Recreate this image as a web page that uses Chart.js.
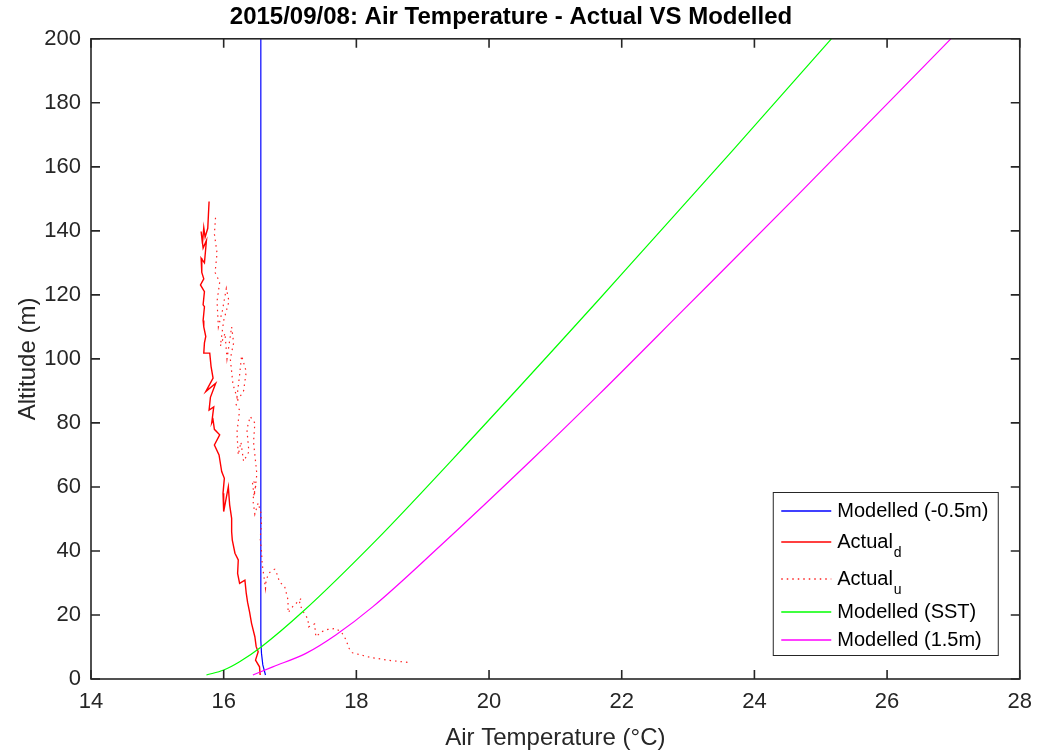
<!DOCTYPE html>
<html>
<head>
<meta charset="utf-8">
<script src="https://cdn.jsdelivr.net/npm/chart.js@4"></script>
<style>
  html, body { margin: 0; padding: 0; background: #fff; }
  canvas { display: block; }
</style>
</head>
<body>
<canvas id="tempChart" width="1042" height="753"></canvas>
<script>
// axis ranges / ticks
const xRange = [14, 28];
const yRange = [0, 200];

// Modelled (-0.5m)
const modelledNegTemp = [16.56, 16.56, 16.57, 16.59, 16.63];
const modelledNegAlt = [200, 12, 8, 4.4, 1.25];

// Actual_d (descent)
const actualDownTemp = [15.78, 15.77, 15.76, 15.72, 15.70, 15.68, 15.66, 15.69, 15.74, 15.71, 15.66, 15.67, 15.70, 15.65,
  15.71, 15.69, 15.71, 15.69, 15.70, 15.73, 15.71, 15.70, 15.79, 15.81, 15.84, 15.73, 15.88, 15.80, 15.78, 15.85, 15.82,
  15.84, 15.86, 15.94, 15.86, 15.93, 15.97, 16.01, 15.99, 16.00, 16.07, 16.09, 16.12, 16.12, 16.13, 16.17, 16.22, 16.21,
  16.24, 16.32, 16.34, 16.36, 16.39, 16.42, 16.47, 16.49, 16.52, 16.48, 16.54, 16.55];
const actualDownAlt = [149.2, 145, 140.8, 138, 141, 136, 139.8, 134.6, 137, 130, 131.5, 127, 125, 123.1,
  121, 116.9, 116.3, 112, 110, 107, 105, 101.8, 101.8, 97.6, 94, 89.8, 92.4, 88, 84, 85, 80,
  80.9, 78, 76.3, 73.1, 70, 64.8, 62.7, 58, 52.3, 60, 54.4, 50.2, 46, 43.4, 39.3, 37.2, 33,
  29.9, 30.9, 26.8, 24, 21, 17.4, 13.2, 10.1, 8.5, 5.9, 3.8, 1.25];

// Actual_u (ascent)
const actualUpTemp = [18.77, 18.5, 18.2, 17.94, 17.89, 17.84, 17.78, 17.69, 17.57, 17.48, 17.39, 17.37, 17.28, 17.27,
  17.2, 17.14, 17.17, 17.04, 16.97, 16.97, 16.92, 16.84, 16.81, 16.77, 16.72, 16.68, 16.64, 16.63, 16.60, 16.58,
  16.57, 16.55, 16.57, 16.56, 16.52, 16.47, 16.44, 16.49, 16.43, 16.46, 16.50, 16.48, 16.45, 16.47, 16.40, 16.35,
  16.38, 16.30, 16.26, 16.22, 16.20, 16.24, 16.18, 16.30, 16.34, 16.27, 16.24, 16.20, 16.14, 16.10, 16.15, 16.12,
  16.05, 16.02, 15.95, 16.0, 16.08, 16.04, 15.98, 15.92, 15.90, 15.94, 15.87, 15.90, 15.86, 15.88];
const actualUpAlt = [5.2, 5.8, 6.8, 8.2, 9.6, 12.4, 14.5, 15.8, 15.5, 14.8, 13.2, 17.2, 16.3, 18.75,
  21, 23.6, 25.2, 22.6, 20.7, 24.7, 28.8, 30.4, 32.5, 34.3, 33.8, 33.0, 30.9, 28.3, 33.0, 36,
  40, 44, 48, 52, 55, 51.5, 56, 61, 62, 57, 64, 68, 74, 80, 82, 78,
  71, 68, 74, 70, 77, 84, 86, 90, 96, 101, 95, 88, 92, 100, 105, 110,
  100, 108, 104, 112, 118, 122, 115, 110, 118, 124, 127, 133, 139, 145];

// Modelled (SST)
const modelledSstTemp = [15.74, 16.0, 16.24, 16.57, 17.19, 18.30, 19.44, 21.65, 22.26, 23.68, 25.16];
const modelledSstAlt = [1.25, 2.8, 5.4, 10.1, 21.0, 43.4, 68.4, 118.4, 132.5, 165.3, 200];

// Modelled (1.5m)
const modelled15Temp = [16.44, 16.74, 17.24, 17.69, 18.25, 19.25, 20.64, 21.65, 22.93, 24.66, 26.96];
const modelled15Alt = [1.25, 3.8, 8.0, 13.75, 22.6, 41.3, 68.4, 88.75, 115.3, 151.3, 200];

const legendLabels = ['Modelled (-0.5m)', 'Actual', 'Actual', 'Modelled (SST)', 'Modelled (1.5m)'];
const legendSubs = ['', 'd', 'u', '', ''];
const seriesColors = ['#0000ff', '#ff0000', '#ff2020', '#00ff00', '#ff00ff'];
const seriesDash = [[], [], [1.5, 4], [], []];

const pts = (xs, ys) => xs.map((x, i) => ({ x: x, y: ys[i] }));

const axisColor = '#262626';
const fontFamily = '"Liberation Sans", Arial, Helvetica, sans-serif';

const seriesData = [
    pts(modelledNegTemp, modelledNegAlt),
    pts(actualDownTemp, actualDownAlt),
    pts(actualUpTemp, actualUpAlt),
    pts(modelledSstTemp, modelledSstAlt),
    pts(modelled15Temp, modelled15Alt)
];

const datasets = seriesData.map((data, i) => ({
    label: legendLabels[i] + legendSubs[i],
    data: data,
    showLine: true,
    pointRadius: 0,
    borderColor: seriesColors[i],
    borderDash: seriesDash[i],
    borderWidth: i === 1 ? 1.4 : 1.2,
    cubicInterpolationMode: i >= 3 ? 'monotone' : 'default',
    tension: 0,
    fill: false,
    order: 5 - i
}));

// box, inward ticks and the legend, MATLAB style
const matlabLook = {
    id: 'matlabLook',
    afterDatasetsDraw(chart) {
        const ctx = chart.ctx;
        const a = chart.chartArea;
        const xs = chart.scales.x, ys = chart.scales.y;
        ctx.save();
        ctx.strokeStyle = axisColor;
        ctx.lineWidth = 1.6;
        ctx.setLineDash([]);
        ctx.beginPath();
        xs.ticks.forEach(t => {
            const px = xs.getPixelForValue(t.value);
            ctx.moveTo(px, a.bottom); ctx.lineTo(px, a.bottom - 9);
            ctx.moveTo(px, a.top); ctx.lineTo(px, a.top + 9);
        });
        ys.ticks.forEach(t => {
            const py = ys.getPixelForValue(t.value);
            ctx.moveTo(a.left, py); ctx.lineTo(a.left + 9, py);
            ctx.moveTo(a.right, py); ctx.lineTo(a.right - 9, py);
        });
        ctx.stroke();
        ctx.strokeRect(a.left, a.top, a.right - a.left, a.bottom - a.top);

        // legend
        const lx = a.right - 246.5, ly = a.bottom - 186.5, lw = 225, lh = 163;
        ctx.fillStyle = '#fff';
        ctx.fillRect(lx, ly, lw, lh);
        ctx.lineWidth = 1;
        ctx.strokeStyle = axisColor;
        ctx.strokeRect(lx, ly, lw, lh);
        const rowY = [18, 49, 86, 119, 147];
        ctx.textBaseline = 'middle';
        ctx.textAlign = 'left';
        legendLabels.forEach((lab, i) => {
            const ry = Math.round(ly + rowY[i]);
            ctx.save();
            ctx.beginPath();
            ctx.lineWidth = 1.4;
            ctx.strokeStyle = seriesColors[i];
            ctx.setLineDash(seriesDash[i]);
            ctx.moveTo(lx + 8, ry);
            ctx.lineTo(lx + 58, ry);
            ctx.stroke();
            ctx.restore();
            ctx.fillStyle = '#000';
            ctx.font = '20px ' + fontFamily;
            ctx.fillText(lab, lx + 64, ry);
            if (legendSubs[i]) {
                const w = ctx.measureText(lab).width;
                ctx.font = '14px ' + fontFamily;
                ctx.fillText(legendSubs[i], lx + 64 + w + 1, ry + 11);
            }
        });
        ctx.restore();
    }
};

new Chart(document.getElementById('tempChart'), {
    type: 'scatter',
    data: { datasets: datasets },
    options: {
        responsive: false,
        animation: false,
        devicePixelRatio: 1,
        layout: { padding: { left: 0, right: 20, top: 0, bottom: 0 } },
        plugins: {
            legend: { display: false },
            tooltip: { enabled: false },
            title: {
                display: true,
                text: '2015/09/08: Air Temperature - Actual VS Modelled',
                color: '#000',
                font: { family: fontFamily, size: 24, weight: 'bold' },
                padding: { top: 3, bottom: 7 }
            }
        },
        scales: {
            x: {
                type: 'linear',
                min: xRange[0],
                max: xRange[1],
                grid: { display: false, drawTicks: false },
                border: { display: false },
                ticks: { stepSize: 2, color: axisColor, padding: 10, font: { family: fontFamily, size: 22 } },
                title: {
                    display: true,
                    text: 'Air Temperature (°C)',
                    color: axisColor,
                    font: { family: fontFamily, size: 24 },
                    padding: { top: 1, bottom: 0 }
                },
                afterFit(scale) { scale.height = 74; }
            },
            y: {
                type: 'linear',
                min: yRange[0],
                max: yRange[1],
                grid: { display: false, drawTicks: false },
                border: { display: false },
                ticks: { stepSize: 20, color: axisColor, padding: 10, font: { family: fontFamily, size: 22 } },
                title: {
                    display: true,
                    text: 'Altitude (m)',
                    color: axisColor,
                    font: { family: fontFamily, size: 24 },
                    padding: { top: 14, bottom: 0 }
                },
                afterFit(scale) { scale.width = 91; }
            }
        }
    },
    plugins: [matlabLook]
});
</script>
</body>
</html>
